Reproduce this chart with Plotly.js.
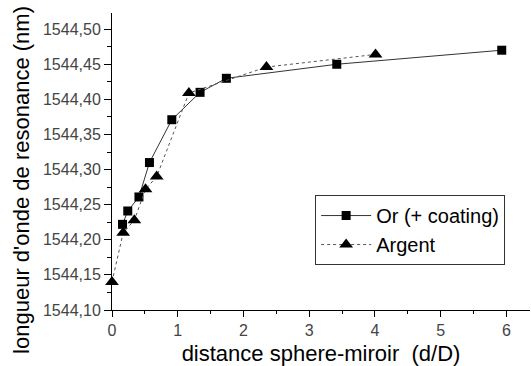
<!DOCTYPE html>
<html>
<head>
<meta charset="utf-8">
<script src="https://cdn.plot.ly/plotly-3.0.1.min.js"></script>
<style>html,body{margin:0;padding:0;background:#fff;}#chart{width:531px;height:366px;}</style>
</head>
<body>
<div id="chart"></div>
<script>
// Data
const orName = "Or (+ coating)";
const orX = [0.16, 0.24, 0.41, 0.57, 0.91, 1.34, 1.74, 3.42, 5.93];
const orY = [1544.222, 1544.241, 1544.261, 1544.310, 1544.371, 1544.410, 1544.430, 1544.450, 1544.470];

const agName = "Argent";
const agX = [0.00, 0.17, 0.34, 0.51, 0.68, 1.17, 2.35, 4.01];
const agY = [1544.140, 1544.210, 1544.228, 1544.272, 1544.290, 1544.409, 1544.446, 1544.464];

const xTitle = "distance sphere-miroir  (d/D)";
const yTitle = "longueur d'onde de resonance (nm)";

const FONT = "Liberation Sans, Arial, sans-serif";

const traces = [
  {
    x: orX, y: orY, name: orName, type: "scatter", mode: "lines+markers",
    line: {color: "#333", width: 1, dash: "solid"},
    marker: {symbol: "square", size: 9, color: "#000"},
    cliponaxis: false
  },
  {
    x: agX, y: agY, name: agName, type: "scatter", mode: "lines+markers",
    line: {color: "#555", width: 1, dash: "dot"},
    marker: {symbol: "triangle-up", size: 12, color: "#000"},
    cliponaxis: false
  }
];

const layout = {
  width: 531, height: 366,
  margin: {l: 112, r: 1, t: 13, b: 56},
  paper_bgcolor: "#fff", plot_bgcolor: "#fff",
  separators: ", ",
  font: {family: FONT, color: "#000"},
  showlegend: true,
  legend: {
    x: 0.486, y: 0.387, xanchor: "left", yanchor: "top",
    bgcolor: "#fff", bordercolor: "#333", borderwidth: 1,
    font: {family: FONT, size: 20, color: "#000"},
    itemwidth: 50, tracegroupgap: 0
  },
  xaxis: {
    range: [0, 6.36], dtick: 1, tick0: 0,
    showgrid: false, zeroline: false,
    showline: true, linecolor: "#000", linewidth: 1,
    ticks: "outside", ticklen: 6, tickcolor: "#000",
    tickfont: {family: FONT, size: 16, color: "#444"},
    minor: {dtick: 0.5, ticks: "outside", ticklen: 3, tickcolor: "#000", showgrid: false},
    title: {text: xTitle, font: {family: FONT, size: 22, color: "#000"}, standoff: 9}
  },
  yaxis: {
    range: [1544.10, 1544.523], dtick: 0.05, tick0: 1544.10,
    tickformat: ".2f",
    showgrid: false, zeroline: false,
    showline: true, linecolor: "#000", linewidth: 1,
    ticks: "outside", ticklen: 7, tickcolor: "#000",
    tickfont: {family: FONT, size: 16, color: "#444"},
    minor: {dtick: 0.025, ticks: "outside", ticklen: 4, tickcolor: "#000", showgrid: false}
  },
  annotations: [{
    text: yTitle, textangle: -90,
    xref: "paper", yref: "paper",
    x: -0.218, y: 0.4377, xanchor: "center", yanchor: "middle",
    showarrow: false,
    font: {family: FONT, size: 22, color: "#000"}
  }]
};

Plotly.newPlot("chart", traces, layout, {staticPlot: true, displayModeBar: false});
</script>
</body>
</html>
